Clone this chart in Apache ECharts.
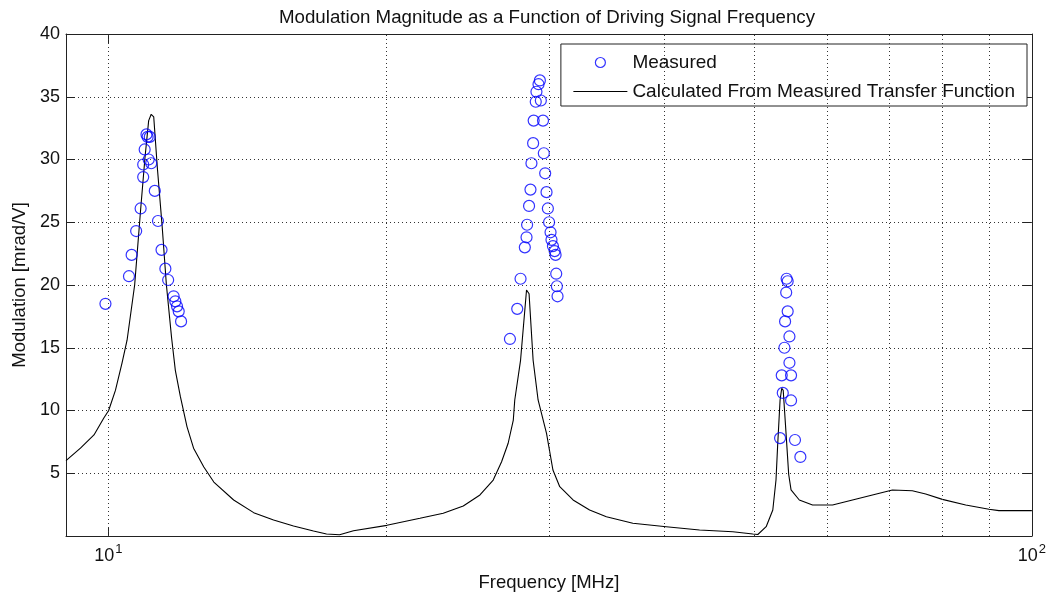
<!DOCTYPE html>
<html>
<head>
<meta charset="utf-8">
<script src="https://cdn.jsdelivr.net/npm/echarts@6/dist/echarts.min.js"></script>
<style>
html,body{margin:0;padding:0;background:#fff;}
#chart{width:1049px;height:601px;}
</style>
</head>
<body>
<div id="chart"></div>
<script>
// Measured points: frequency [MHz], modulation [mrad/V]
var measuredFreq = [
  9.93, 10.53, 10.6, 10.72, 10.84, 10.91, 10.91, 10.95, 11.0, 11.03, 11.09, 11.06, 11.13, 11.23, 11.32, 11.42, 11.53, 11.61, 11.77, 11.82, 11.87, 11.92, 11.99,
  27.22, 27.72, 27.95, 28.25, 28.37, 28.41, 28.55, 28.65, 28.72, 28.84, 28.88, 29.03, 29.08, 29.23, 29.33, 29.4, 29.56, 29.62, 29.72, 29.82, 29.92, 30.01, 30.12, 30.19, 30.3, 30.43, 30.5, 30.55, 30.6, 30.65,
  54.26, 54.4, 54.2, 54.4, 54.05, 54.64, 53.96, 54.64, 53.6, 54.86, 53.74, 54.86, 53.38, 55.4, 56.15
];
var measuredMag = [
  18.5, 20.7, 22.4, 24.3, 26.1, 28.6, 29.6, 30.8, 32.0, 31.8, 31.8, 30.0, 29.7, 27.5, 25.1, 22.8, 21.3, 20.4, 19.1, 18.7, 18.3, 17.9, 17.1,
  15.7, 18.1, 20.5, 23.0, 23.8, 24.8, 26.3, 27.6, 29.7, 31.3, 33.1, 34.6, 35.4, 36.0, 36.3, 34.7, 33.1, 30.5, 28.9, 27.4, 26.1, 25.0, 24.2, 23.6, 23.1, 22.7, 22.4, 20.9, 19.9, 19.1,
  20.5, 20.3, 19.4, 17.9, 17.1, 15.9, 15.0, 13.8, 12.8, 12.8, 11.4, 10.8, 7.8, 7.65, 6.3
];
// Calculated curve
var calcFreq = [
  9.0, 9.33, 9.65, 9.89, 10.01, 10.18, 10.35, 10.48, 10.68, 10.84, 10.96, 11.06, 11.13, 11.2, 11.3, 11.44, 11.56, 11.71, 11.82, 11.97, 12.17, 12.37, 12.69, 13.01, 13.67, 14.37, 15.1, 15.87, 16.68, 17.23, 17.8,
  18.43, 20.03, 21.75, 23.05, 24.23, 25.26, 26.11, 26.66, 27.1, 27.45, 27.55, 27.95, 28.37, 28.55, 28.84, 29.2, 29.82, 30.3, 30.82, 31.86, 33.2, 34.62, 36.98, 40.19, 43.67, 47.45, 49.87, 50.5,
  51.56, 52.42, 52.84, 53.05, 53.38, 53.6, 53.8, 54.2, 54.54, 54.86, 56.0, 57.88, 60.84, 63.94, 67.2, 70.63, 74.22, 76.74, 80.0, 84.8, 89.86, 92.1, 100
];
var calcMag = [
  6.0, 7.0, 8.05, 9.4, 10.0, 11.6, 13.8, 15.6, 20.0, 26.0, 30.2, 33.1, 33.6, 33.4, 29.4, 24.6, 20.0, 15.8, 13.2, 11.1, 8.7, 7.0, 5.5, 4.3, 2.87, 1.86, 1.27, 0.8, 0.4, 0.16, 0.1,
  0.42, 0.85, 1.41, 1.81, 2.39, 3.27, 4.46, 5.92, 7.39, 9.24, 10.84, 14.0, 19.6, 19.3, 14.0, 10.84, 8.18, 5.26, 3.93, 2.87, 2.07, 1.54, 1.01, 0.74, 0.48, 0.34, 0.16, 0.12,
  0.74, 2.07, 4.46, 7.12, 10.84, 11.77, 11.6, 8.0, 4.9, 3.67, 2.87, 2.47, 2.47, 2.87, 3.27, 3.67, 3.61, 3.35, 2.92, 2.47, 2.13, 2.02, 2.02
];
var xGridValues = [10, 20, 30, 40, 50, 60, 70, 80, 90];
var yTicks = [5, 10, 15, 20, 25, 30, 35, 40];
var titleText = 'Modulation Magnitude as a Function of Driving Signal Frequency';
var xName = 'Frequency [MHz]';
var yName = 'Modulation [mrad/V]';
var seriesNames = ['Measured', 'Calculated From Measured Transfer Function'];

var FONT = '"Liberation Sans", Arial, Helvetica, sans-serif';
var measuredData = measuredFreq.map(function (f, i) { return [f, measuredMag[i]]; });
var calcData = calcFreq.map(function (f, i) { return [f, calcMag[i]]; });

function logLabel(v) {
  var l = Math.log(v) / Math.LN10;
  if (Math.abs(l - 1) < 1e-6) return '{b|10}{s|1}';
  if (Math.abs(l - 2) < 1e-6) return '{b|10}{s|2}';
  return '';
}

var chart = echarts.init(document.getElementById('chart'), null, {renderer: 'canvas'});
var axisLine = {show: true, onZero: false, lineStyle: {color: '#222', width: 1}};
var tick = {show: true, inside: true, length: 9, lineStyle: {color: '#222'}};
var option = {
  backgroundColor: '#fff',
  animation: false,
  textStyle: {fontFamily: FONT},
  title: {
    text: titleText,
    left: 542, textAlign: 'center', top: 3,
    textStyle: {fontFamily: FONT, fontSize: 18.7, fontWeight: 'normal', color: '#111'}
  },
  grid: {left: 66, right: 16, top: 34, bottom: 65, containLabel: false},
  legend: {
    orient: 'vertical', right: 22, top: 44,
    backgroundColor: '#fff', borderColor: '#222', borderWidth: 1,
    padding: [9, 12, 5, 12],
    itemWidth: 54, itemHeight: 10, itemGap: 10,
    textStyle: {fontFamily: FONT, fontSize: 19, color: '#111', lineHeight: 18},
    data: [
      {name: seriesNames[0], icon: 'circle', itemStyle: {color: 'rgba(0,0,0,0)', borderColor: '#0000ff', borderWidth: 1.2}},
      {name: seriesNames[1], itemStyle: {color: 'rgba(0,0,0,0)', borderColor: 'rgba(0,0,0,0)', borderWidth: 0}, lineStyle: {color: '#000', width: 1}}
    ]
  },
  xAxis: [{
    type: 'log', logBase: 10, min: 9, max: 100, position: 'bottom',
    name: xName, nameLocation: 'middle', nameGap: 37,
    nameTextStyle: {fontFamily: FONT, fontSize: 18.5, color: '#111'},
    axisLine: axisLine,
    axisTick: tick,
    axisLabel: {
      show: true, margin: 7, formatter: logLabel, showMinLabel: true, showMaxLabel: true,
      rich: {
        b: {fontFamily: FONT, fontSize: 18, color: '#111', lineHeight: 22, verticalAlign: 'bottom'},
        s: {fontFamily: FONT, fontSize: 13, color: '#111', lineHeight: 12, verticalAlign: 'top', padding: [0, 0, 0, 1]}
      }
    },
    splitLine: {show: false}
  }, {
    type: 'log', logBase: 10, min: 9, max: 100, position: 'top',
    axisLine: axisLine,
    axisTick: tick,
    axisLabel: {show: false}, splitLine: {show: false}
  }],
  yAxis: [{
    type: 'value', min: 0, max: 40, interval: 5, position: 'left',
    name: yName, nameLocation: 'middle', nameGap: 37, nameRotate: 90,
    nameTextStyle: {fontFamily: FONT, fontSize: 18.5, color: '#111'},
    axisLine: axisLine,
    axisTick: tick,
    axisLabel: {
      fontFamily: FONT, fontSize: 18, color: '#111', margin: 6,
      formatter: function (v) { return yTicks.indexOf(v) >= 0 ? String(v) : ''; }
    },
    splitLine: {show: true, lineStyle: {color: '#333', width: 1, type: [1, 3]}}
  }, {
    type: 'value', min: 0, max: 40, interval: 5, position: 'right',
    axisLine: axisLine,
    axisTick: tick,
    axisLabel: {show: false}, splitLine: {show: false}
  }],
  series: [{
    name: 'grid', type: 'line', data: [], silent: true, z: 1,
    markLine: {
      silent: true, symbol: ['none', 'none'], label: {show: false},
      lineStyle: {color: '#333', width: 1, type: [1, 3]},
      emphasis: {disabled: true},
      data: xGridValues.map(function (v) { return {xAxis: v}; })
    }
  }, {
    name: seriesNames[1], type: 'line', data: calcData, symbol: 'none', showSymbol: false,
    smooth: false, z: 2,
    lineStyle: {color: '#000', width: 1.1},
    itemStyle: {color: '#000'}
  }, {
    name: seriesNames[0], type: 'scatter', data: measuredData, symbol: 'circle', symbolSize: 11, z: 3,
    itemStyle: {color: 'rgba(0,0,0,0)', borderColor: '#0000ff', borderWidth: 1.2}
  }]
};
chart.setOption(option);
</script>
</body>
</html>
